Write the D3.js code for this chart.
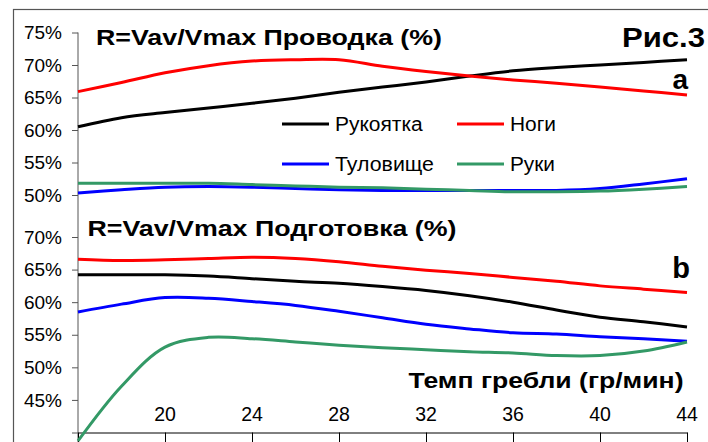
<!DOCTYPE html>
<html>
<head>
<meta charset="utf-8">
<script src="https://cdn.jsdelivr.net/npm/d3@7"></script>
<style>
  body { margin: 0; background: #fff; }
  svg { display: block; font-family: "Liberation Sans", Arial, sans-serif; }
</style>
</head>
<body>
<div class="chart"></div>
<script>
// rowing rate, strokes per minute
var rates = [16, 18, 20, 22, 24, 26, 28, 30, 32, 34, 36, 38, 40, 42, 44];
// a) drive phase ("Проводка"), %
var driveHandle = [60.5, 61.9, 62.7, 63.4, 64.1, 64.9, 65.8, 66.6, 67.4, 68.3, 69.1, 69.6, 70.0, 70.4, 70.8];
var driveLegs   = [65.9, 67.3, 68.8, 69.9, 70.6, 70.8, 70.8, 69.8, 69.0, 68.3, 67.7, 67.2, 66.6, 66.0, 65.4];
var driveTorso  = [50.3, 50.8, 51.2, 51.3, 51.2, 51.0, 50.8, 50.7, 50.7, 50.7, 50.7, 50.7, 51.0, 51.7, 52.5];
var driveArms   = [51.8, 51.8, 51.8, 51.8, 51.6, 51.4, 51.2, 51.1, 50.9, 50.7, 50.5, 50.5, 50.6, 50.9, 51.3];
// b) preparation ("Подготовка"), %
var prepHandle = [64.2, 64.2, 64.2, 64.0, 63.6, 63.2, 62.9, 62.4, 61.8, 61.0, 60.0, 58.8, 57.7, 57.0, 56.2];
var prepLegs   = [66.6, 66.4, 66.5, 66.7, 66.9, 66.7, 66.2, 65.5, 64.9, 64.4, 63.8, 63.2, 62.5, 62.0, 61.5];
var prepTorso  = [58.5, 59.7, 60.7, 60.6, 60.1, 59.5, 58.6, 57.6, 56.6, 55.9, 55.3, 55.1, 54.7, 54.4, 54.0];
var prepArms   = [38.7, 47.1, 53.1, 54.6, 54.4, 53.9, 53.4, 53.0, 52.7, 52.4, 52.2, 51.8, 51.8, 52.5, 53.9];

var seriesNames = ["Рукоятка", "Ноги", "Туловище", "Руки"];
var seriesColors = ["#000000", "#ff0000", "#0000ff", "#339966"];

var xTicks = [16, 20, 24, 28, 32, 36, 40, 44];
var xLabels = [20, 24, 28, 32, 36, 40, 44];
var topTicks = [50, 55, 60, 65, 70, 75];
var bottomTicks = [40, 45, 50, 55, 60, 65, 70];

var width = 708, height = 442;

var svg = d3.select(".chart").append("svg")
  .attr("width", width)
  .attr("height", height);

// frame of the figure
svg.append("rect")
  .attr("x", 13.5).attr("y", 9.5)
  .attr("width", 720).attr("height", 460)
  .attr("fill", "none")
  .attr("stroke", "#555")
  .attr("stroke-width", 1.2);

var x = d3.scaleLinear().domain([16, 44]).range([78, 687]);
var yTop = d3.scaleLinear().domain([50, 75]).range([195, 32.5]);
var yBot = d3.scaleLinear().domain([40, 70]).range([432.5, 237]);

// y axes
var axisTop = svg.append("g")
  .attr("transform", "translate(78,0)")
  .call(d3.axisLeft(yTop).tickValues(topTicks).tickSize(6).tickPadding(10)
    .tickFormat(function(d){ return d + "%"; }));
var axisBot = svg.append("g")
  .attr("transform", "translate(78,0)")
  .call(d3.axisLeft(yBot).tickValues(bottomTicks).tickSize(6).tickPadding(10)
    .tickFormat(function(d){ return d === 40 ? "" : d + "%"; }));
[axisTop, axisBot].forEach(function(g){
  g.select(".domain").remove();
  g.selectAll("line").attr("stroke", "#555");
  g.selectAll("text").attr("font-size", 19).attr("fill", "#000")
    .attr("font-family", "'Liberation Sans', Arial, sans-serif");
});
svg.append("line")
  .attr("x1", 78).attr("x2", 78)
  .attr("y1", yTop(75)).attr("y2", height)
  .attr("stroke", "#555");

// x axis
var xAxis = svg.append("g")
  .attr("transform", "translate(0," + yBot(40) + ")")
  .call(d3.axisBottom(x).tickValues(xTicks).tickSize(12).tickFormat(""));
xAxis.select(".domain").attr("stroke", "#000");
xAxis.selectAll("line").attr("stroke", "#000");

svg.append("g").selectAll("text")
  .data(xLabels).enter().append("text")
  .attr("x", function(d){ return x(d); })
  .attr("y", 421)
  .attr("text-anchor", "middle")
  .attr("font-size", 19.5)
  .text(function(d){ return d; });

var line = function(yScale){
  return d3.line()
    .x(function(d, i){ return x(rates[i]); })
    .y(function(d){ return yScale(d); })
    .curve(d3.curveCatmullRom.alpha(0.5));
};

// b) panel first, a) drawn over it
[prepHandle, prepLegs, prepTorso, prepArms].forEach(function(vals, k){
  svg.append("path")
    .attr("d", line(yBot)(vals))
    .attr("fill", "none")
    .attr("stroke", seriesColors[k])
    .attr("stroke-width", 3);
});
[driveHandle, driveLegs, driveTorso, driveArms].forEach(function(vals, k){
  svg.append("path")
    .attr("d", line(yTop)(vals))
    .attr("fill", "none")
    .attr("stroke", seriesColors[k])
    .attr("stroke-width", 3);
});

// legend
var legendPos = [[282, 124], [457, 124], [282, 164], [457, 164]];
var legendW = [87.7, 46, 99, 45];
seriesNames.forEach(function(name, k){
  var p = legendPos[k];
  svg.append("line")
    .attr("x1", p[0]).attr("x2", p[0] + 47)
    .attr("y1", p[1]).attr("y2", p[1])
    .attr("stroke", seriesColors[k])
    .attr("stroke-width", 3);
  svg.append("text")
    .attr("x", p[0] + 53).attr("y", p[1] + 7)
    .attr("font-size", 19.5)
    .attr("textLength", legendW[k])
    .attr("lengthAdjust", "spacingAndGlyphs")
    .text(name);
});

// titles and labels
function label(txt, xx, yy, size, len, anchor){
  var t = svg.append("text")
    .attr("x", xx).attr("y", yy)
    .attr("font-size", size)
    .attr("font-weight", "bold")
    .text(txt);
  if (len) t.attr("textLength", len).attr("lengthAdjust", "spacingAndGlyphs");
  if (anchor) t.attr("text-anchor", anchor);
  return t;
}
label("R=Vav/Vmax Проводка (%)", 96, 45, 22, 346);
label("Рис.3", 622, 46.5, 27, 83);
label("a", 688, 89, 28, null, "end");
label("R=Vav/Vmax Подготовка (%)", 87.5, 236, 22, 369);
label("b", 690, 278, 29, null, "end");
label("Темп гребли (гр/мин)", 408.5, 388, 22, 275);
</script>
</body>
</html>
